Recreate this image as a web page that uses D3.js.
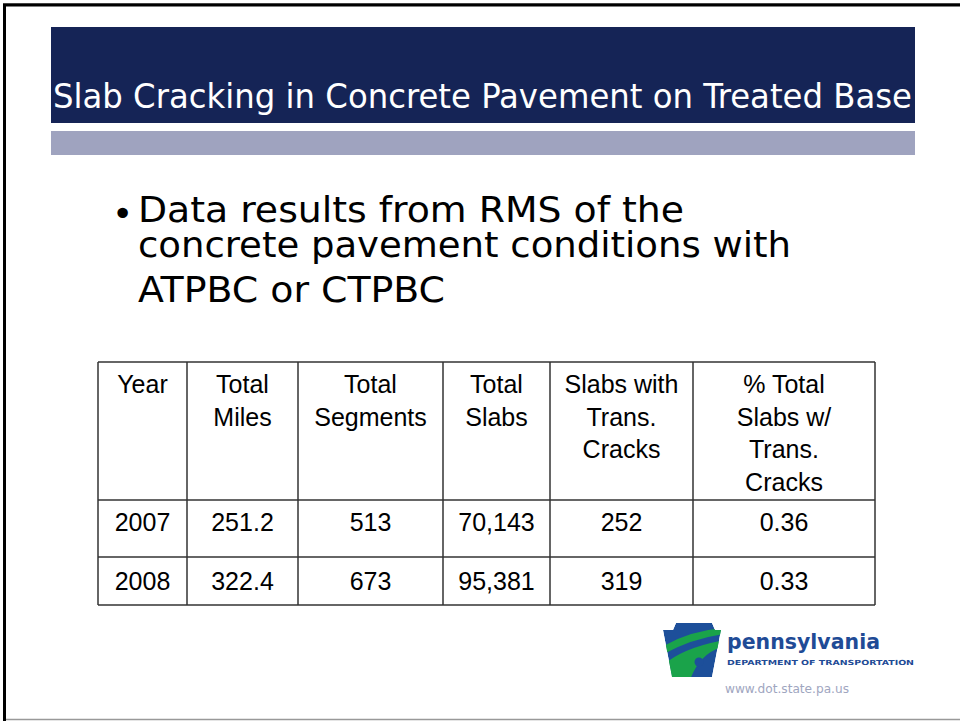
<!DOCTYPE html>
<html>
<head>
<meta charset="utf-8">
<script src="https://cdn.jsdelivr.net/npm/d3@7"></script>
<style>
  html, body { margin: 0; padding: 0; background: #fff; }
  svg { display: block; }
</style>
</head>
<body>
<svg id="slide" width="960" height="721"></svg>
<script>
// slide text
const title = "Slab Cracking in Concrete Pavement on Treated Base";
const bulletLines = ["Data results from RMS of the", "concrete pavement conditions with", "ATPBC or CTPBC"];

// table data
const headers = [
  ["Year"],
  ["Total", "Miles"],
  ["Total", "Segments"],
  ["Total", "Slabs"],
  ["Slabs with", "Trans.", "Cracks"],
  ["% Total", "Slabs w/", "Trans.", "Cracks"]
];
const years = [2007, 2008];
const totalMiles = [251.2, 322.4];
const totalSegments = [513, 673];
const totalSlabs = [70143, 95381];
const slabsCracked = [252, 319];
const pctCracked = [0.36, 0.33];

const svg = d3.select("svg#slide");
const width = +svg.attr("width");
const height = +svg.attr("height");

// slide frame
svg.append("line").attr("x1", 3).attr("x2", width).attr("y1", 3.5).attr("y2", 3.5)
  .style("stroke", "#888").style("stroke-width", 1);
svg.append("path").attr("d", `M4.5,${height} V5 H${width}`)
  .style("fill", "none").style("stroke", "#000").style("stroke-width", 3);
svg.append("line").attr("x1", 6).attr("x2", width).attr("y1", 719.5).attr("y2", 719.5)
  .style("stroke", "#999").style("stroke-width", 1.5);

// title bars
svg.append("rect").attr("x", 51).attr("y", 27).attr("width", 864).attr("height", 96)
  .attr("fill", "#152456");
svg.append("rect").attr("x", 51).attr("y", 131).attr("width", 864).attr("height", 24)
  .attr("fill", "#9fa3bf");
svg.append("text")
  .attr("x", 53).attr("y", 108)
  .attr("textLength", 859).attr("lengthAdjust", "spacingAndGlyphs")
  .style("font-family", "'DejaVu Sans Condensed', 'DejaVu Sans', sans-serif")
  .style("font-size", "34px")
  .style("fill", "#fff")
  .text(title);

// bullet
const bulletBase = [222, 257, 302];
const bulletLen = [546, 653, 307];
svg.append("text").attr("x", 112).attr("y", 226)
  .style("font-family", "'DejaVu Sans', sans-serif").style("font-size", "36px")
  .text("\u2022");
svg.append("g").selectAll("text")
  .data(bulletLines)
  .enter().append("text")
  .attr("x", 138)
  .attr("y", (d, i) => bulletBase[i])
  .attr("textLength", (d, i) => bulletLen[i])
  .attr("lengthAdjust", "spacingAndGlyphs")
  .style("font-family", "'DejaVu Sans Condensed', 'DejaVu Sans', sans-serif")
  .style("font-size", "35px")
  .style("fill", "#000")
  .text(d => d);

// table
const colKeys = d3.range(headers.length);
const colEdges = [98, 187, 298, 443, 550, 693, 875];
const rowEdges = [362, 500, 557, 605];
const xLeft = d3.scaleOrdinal(colKeys, colEdges.slice(0, -1));
const xRight = d3.scaleOrdinal(colKeys, colEdges.slice(1));
const xMid = k => (xLeft(k) + xRight(k)) / 2;
const yRow = d3.scaleOrdinal(d3.range(3), rowEdges.slice(0, -1));

const fmt = [d3.format("d"), d3.format(".1f"), d3.format("d"), d3.format(","), d3.format("d"), d3.format(".2f")];
const columns = [years, totalMiles, totalSegments, totalSlabs, slabsCracked, pctCracked];
const rows = years.map((y, r) => columns.map((col, k) => fmt[k](col[r])));

const table = svg.append("g").attr("class", "table");

table.selectAll("line.v")
  .data(colEdges)
  .enter().append("line")
  .attr("class", "v")
  .attr("x1", d => d).attr("x2", d => d)
  .attr("y1", rowEdges[0]).attr("y2", rowEdges[rowEdges.length - 1])
  .style("stroke", "#333").style("stroke-width", 1.5);

table.selectAll("line.h")
  .data(rowEdges)
  .enter().append("line")
  .attr("class", "h")
  .attr("x1", colEdges[0]).attr("x2", colEdges[colEdges.length - 1])
  .attr("y1", d => d).attr("y2", d => d)
  .style("stroke", "#333").style("stroke-width", 1.5);

const cellFont = "'Liberation Sans', Arial, sans-serif";

// header cells
table.selectAll("text.head")
  .data(headers.flatMap((lines, k) => lines.map((t, i) => ({k, i, t}))))
  .enter().append("text")
  .attr("class", "head")
  .attr("x", d => xMid(d.k))
  .attr("y", d => yRow(0) + 31 + d.i * 32.5)
  .attr("text-anchor", "middle")
  .style("font-family", cellFont).style("font-size", "25px")
  .text(d => d.t);

// body cells
table.selectAll("text.cell")
  .data(rows.flatMap((row, r) => row.map((t, k) => ({r, k, t}))))
  .enter().append("text")
  .attr("class", "cell")
  .attr("x", d => xMid(d.k))
  .attr("y", d => yRow(d.r + 1) + 31 + d.r * 1.5)
  .attr("text-anchor", "middle")
  .style("font-family", cellFont).style("font-size", "25px")
  .text(d => d.t);

// PennDOT logo
const logo = svg.append("g").attr("class", "logo");
const keystone = [[663, 630], [673, 630], [676, 623], [712, 623], [715, 630], [721, 630], [712, 677], [672, 677]];
logo.append("clipPath").attr("id", "ks")
  .append("polygon").attr("points", keystone.join(" "));
const ks = logo.append("g").attr("clip-path", "url(#ks)");
ks.append("polygon").attr("points", keystone.join(" ")).attr("fill", "#1d4f9a");
ks.append("path")
  .attr("d", "M660,648 Q690,630 725,628 L725,634 Q692,638 660,656 Z")
  .attr("fill", "#1aa34a");
ks.append("path")
  .attr("d", "M660,668 Q680,648 725,640 L725,646 Q700,652 690,680 L660,680 Z")
  .attr("fill", "#1aa34a");
ks.append("circle").attr("cx", 699).attr("cy", 662).attr("r", 4.5).attr("fill", "#1d4f9a");

logo.append("text")
  .attr("x", 727).attr("y", 649)
  .attr("textLength", 153).attr("lengthAdjust", "spacingAndGlyphs")
  .style("font-family", "'DejaVu Sans', sans-serif").style("font-weight", "bold")
  .style("font-size", "22px").style("fill", "#1f4b96")
  .text("pennsylvania");
logo.append("text")
  .attr("x", 727).attr("y", 665)
  .attr("textLength", 187).attr("lengthAdjust", "spacingAndGlyphs")
  .style("font-family", "'DejaVu Sans', sans-serif").style("font-weight", "bold")
  .style("font-size", "7px").style("fill", "#1f4b96")
  .text("DEPARTMENT OF TRANSPORTATION");
logo.append("text")
  .attr("x", 725).attr("y", 693)
  .attr("textLength", 124).attr("lengthAdjust", "spacingAndGlyphs")
  .style("font-family", "'DejaVu Sans', sans-serif")
  .style("font-size", "12px").style("fill", "#a0a6bf")
  .text("www.dot.state.pa.us");
</script>
</body>
</html>
